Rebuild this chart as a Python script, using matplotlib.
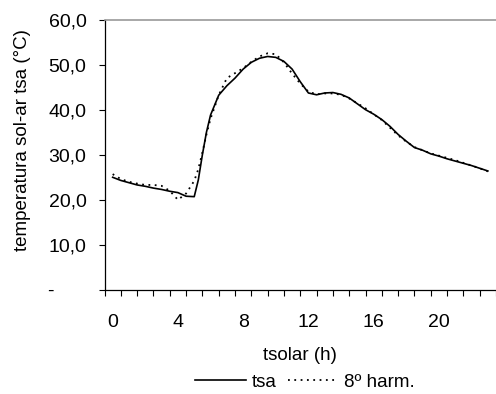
import numpy as np
import matplotlib
matplotlib.use("Agg")
import matplotlib.pyplot as plt
from matplotlib.ticker import FixedLocator, FuncFormatter

plt.rcParams['font.family'] = ['Liberation Sans', 'DejaVu Sans']

# hora solar (h) e valores
horas = [0, 0.5, 1, 1.5, 2, 2.5, 3, 3.5, 4, 4.5, 5, 5.25, 5.5, 5.75, 6, 6.5, 7, 7.5, 8,
         8.5, 9, 9.5, 10, 10.5, 11, 11.5, 12, 12.5, 13, 13.5, 14, 14.5, 15, 15.5, 16,
         16.5, 17, 17.5, 18, 18.5, 19, 19.5, 20, 20.5, 21, 21.5, 22, 22.5, 23]
tsa = [25.0, 24.3, 23.8, 23.3, 23.0, 22.6, 22.3, 21.9, 21.6, 20.8, 20.7, 24.4, 30.0, 35.0,
       38.8, 43.2, 45.3, 47.0, 49.0, 50.5, 51.4, 51.8, 51.6, 50.7, 49.0, 46.2, 43.7,
       43.3, 43.7, 43.8, 43.4, 42.6, 41.3, 40.0, 39.0, 37.8, 36.3, 34.5, 33.0, 31.6,
       31.0, 30.2, 29.7, 29.1, 28.6, 28.1, 27.6, 27.0, 26.4]
harm8 = [25.7, 24.6, 24.0, 23.6, 23.3, 23.3, 23.1, 22.0, 20.0, 21.4, 24.2, 26.8, 30.5, 34.5,
         38.0, 43.2, 47.0, 48.1, 49.2, 50.6, 51.8, 52.5, 52.3, 50.5, 48.0, 45.8, 44.0,
         43.4, 43.6, 43.6, 43.3, 42.5, 41.4, 40.3, 39.0, 37.7, 36.0, 34.3, 32.9, 31.7,
         31.0, 30.3, 29.8, 29.3, 28.8, 28.2, 27.6, 27.0, 26.3]

rotulos_x = [0, 4, 8, 12, 16, 20]
rotulos_y = [0, 10, 20, 30, 40, 50, 60]

fig = plt.figure(figsize=(4.96, 3.94), dpi=100)
ax = fig.add_axes([0.2107, 0.264, 0.7893, 0.6865])

ax.plot(horas, tsa, color='black', lw=1.2, label='tsa')
ax.plot(horas, harm8, color='black', lw=1.3, linestyle=(0, (1, 2.5)), label='8º harm.')

ax.set_xlim(-0.5, 23.5)
ax.set_ylim(0, 60)

ax.xaxis.set_major_locator(FixedLocator(rotulos_x))
ax.xaxis.set_minor_locator(FixedLocator(np.arange(-0.5, 24, 1)))
ax.tick_params(axis='x', which='major', length=0, pad=17, labelsize=14)
ax.tick_params(axis='x', which='minor', length=4, width=0.8, direction='out')

ax.yaxis.set_major_locator(FixedLocator(rotulos_y))
ax.yaxis.set_major_formatter(FuncFormatter(
    lambda v, p: '-      ' if v == 0 else f'{v:.1f}'.replace('.', ',')))
ax.tick_params(axis='y', length=4, width=0.8, direction='out', pad=9, labelsize=14)

ax.spines['right'].set_visible(False)
ax.spines['top'].set_color('#999999')
ax.spines['top'].set_linewidth(1.2)
ax.spines['left'].set_linewidth(0.9)
ax.spines['bottom'].set_linewidth(0.9)

ax.set_xlabel('tsolar (h)', fontsize=13.5, labelpad=12)
fig.text(0.046, 0.645, 'temperatura sol-ar tsa (°C)', rotation=90,
         ha='center', va='center', fontsize=13.5)

fig.legend(loc='center', bbox_to_anchor=(0.615, 0.03), ncol=2, frameon=False,
           borderpad=0, fontsize=13.5, handlelength=2.7, handletextpad=0.3,
           columnspacing=0.6)

fig.savefig('out.png', dpi=100)
